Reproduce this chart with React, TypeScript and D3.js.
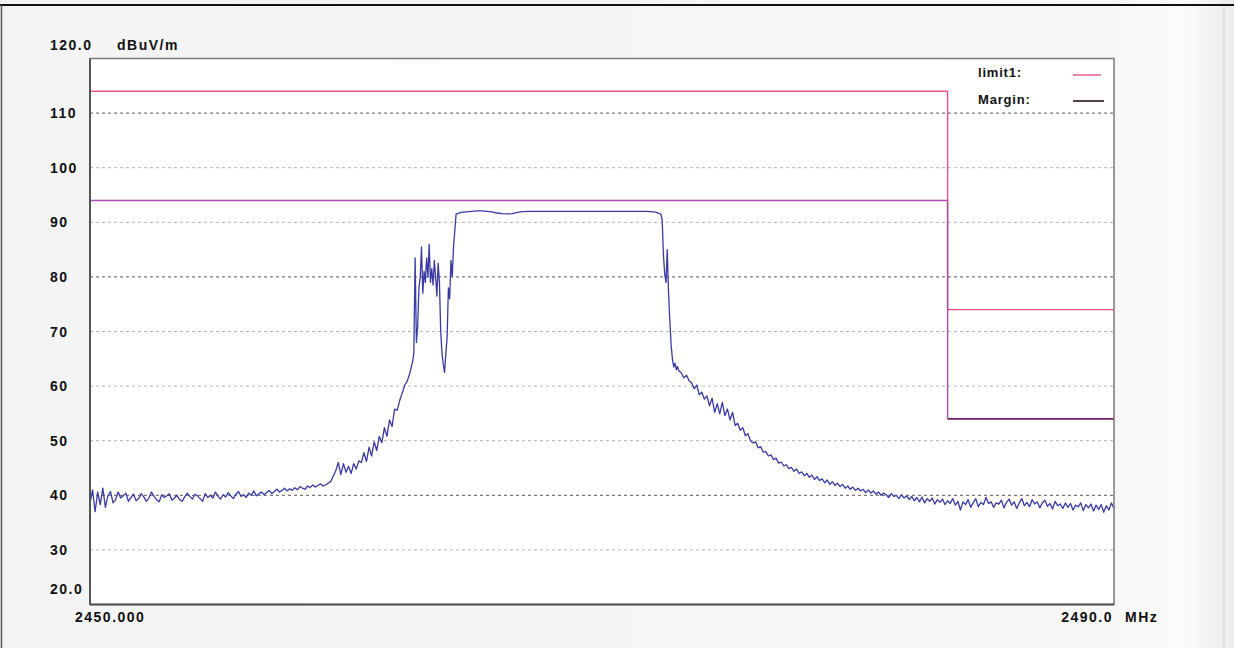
import React from "react";
import * as d3 from "d3";

// Spectrum sweep, 2450–2490 MHz, level in dBuV/m.
// The trace is stored in segments: start frequency (MHz), step (MHz), levels.
const floorLeftStart = 2450.0;
const floorLeftStep = 0.1;
const floorLeft = [
  38.5, 41.0, 37.0, 40.6, 38.3, 41.3, 37.8, 39.9, 40.7, 38.6,
  39.2, 40.6, 39.5, 39.9, 40.4, 38.9, 39.6, 40.2, 39.0, 39.4,
  40.3, 39.7, 38.9, 39.5, 40.6, 39.8, 39.2, 38.8, 40.1, 39.6,
  39.9, 40.3, 39.1, 39.5, 40.0, 39.2, 38.9, 39.7, 40.4, 39.8,
  39.3, 40.2, 39.9, 39.4, 38.9, 40.3, 39.6, 40.0, 39.5, 40.6,
  39.8, 39.3, 40.1, 39.7, 40.5, 39.9, 39.4, 40.2, 40.7, 39.8,
  40.1, 39.6, 40.4, 40.0, 40.8, 39.9, 40.3, 40.6, 40.1, 40.5,
  40.9, 40.3, 40.7, 41.1, 40.6, 40.9, 41.3, 40.8, 41.2, 40.9,
  41.4, 41.0, 41.6, 41.3, 41.1, 41.7, 41.4, 41.9, 41.5, 41.8,
  42.1, 41.7, 41.9,
];

const riseStart = 2459.3;
const riseStep = 0.1;
const rise = [
  42.2, 42.5, 43.5, 44.5, 46.0, 43.8, 45.8, 44.2, 45.3, 44.0,
  45.8, 44.8, 46.3, 46.0, 47.8, 46.2, 48.8, 47.2, 49.8, 48.2,
  50.8, 49.6, 52.4, 50.8, 53.8, 52.6, 55.8, 55.6, 57.4, 58.8,
  60.2, 61.0, 62.5, 64.5,
];

const shoulderStart = 2462.65;
const shoulderStep = 0.05;
const shoulder = [
  66.0, 83.5, 68.0, 71.0, 78.0, 80.0, 85.5, 77.0, 81.0, 79.0,
  83.5, 80.0, 86.0, 79.0, 81.5, 78.5, 83.0, 80.0, 76.5, 82.5,
  79.0, 70.0, 66.0, 64.0, 62.5, 66.0, 69.0, 78.0, 76.0, 83.0,
  80.0, 85.5, 88.5,
];

const topStart = 2464.3;
const topStep = 0.2;
const top = [
  91.5, 91.8, 91.9, 92.0, 92.1, 92.1, 92.0, 91.9, 91.7, 91.6,
  91.55, 91.6, 91.8, 91.95, 92.0, 92.0, 92.0, 92.0, 92.0, 92.0,
  92.0, 92.0, 92.0, 92.0, 92.0, 92.0, 92.0, 92.0, 92.0, 92.0,
  92.0, 92.0, 92.0, 92.0, 92.0, 92.0, 92.0, 92.0, 91.95, 91.85,
  91.5,
];

const edgeStart = 2472.35;
const edgeStep = 0.05;
const edge = [
  90.5, 84.0, 80.5, 79.0, 85.0, 77.0, 72.0, 67.5, 65.0, 63.5,
  64.2, 63.0, 63.6, 62.8,
];

const fallStart = 2473.1;
const fallStep = 0.1;
const fall = [
  62.4, 61.5, 62.0, 61.0, 60.6, 59.5, 60.2, 58.4, 58.9, 57.6,
  58.2, 56.4, 57.8, 55.2, 56.8, 54.9, 57.0, 54.6, 55.8, 53.8,
  55.2, 52.8, 53.2, 51.9, 52.4, 50.9, 51.3, 50.0, 49.6, 49.8,
  48.7, 48.9, 47.9, 48.0, 47.2, 47.4, 46.5, 46.8, 45.9, 46.1,
  45.4, 45.6, 44.9, 45.1, 44.4, 44.8, 44.0, 44.3, 43.6, 44.0,
  43.3, 43.7, 42.9, 43.4, 42.7, 43.0, 42.3, 42.8, 42.0, 42.5,
  41.8, 42.2, 41.6, 42.0, 41.3, 41.7, 41.1, 41.5, 40.9, 41.3,
  40.8, 41.1, 40.5, 41.0, 40.4, 40.8, 40.2, 40.6, 40.0, 40.4,
];

const floorRightStart = 2481.1;
const floorRightStep = 0.1;
const floorRight = [
  40.1, 39.6, 40.3, 39.8, 40.0, 39.4, 40.1, 39.5, 39.9, 39.2,
  39.8, 39.0, 39.6, 38.8, 39.7, 38.6, 39.4, 38.9, 39.5, 38.4,
  39.2, 38.7, 39.3, 38.3, 39.0, 38.5, 39.4, 38.2, 38.9, 37.3,
  38.8, 38.3, 39.2, 37.8, 38.6, 39.4, 37.9, 38.7, 38.3, 39.6,
  38.5, 38.8, 37.8, 38.6, 38.4, 39.1, 37.7, 38.7, 39.3, 38.2,
  38.8, 37.6, 38.6, 39.4, 38.1, 38.7, 37.9, 39.2, 38.4, 38.8,
  37.7, 38.6, 39.1, 38.0, 38.5, 37.5, 38.9, 38.1, 38.4, 37.6,
  38.6, 37.8, 38.5, 37.3, 38.2, 37.9, 38.6, 37.2, 38.3, 37.7,
  38.4, 37.1, 38.2, 37.4, 38.3, 36.9, 38.1, 37.3, 38.6, 37.6,
];

// Limit and margin lines (restricted band edge at 2483.5 MHz)
const limitFreq = [2450, 2483.5, 2483.5, 2490];
const limitLevel = [114, 114, 74, 74];
const marginLevel = [94, 94, 54, 54];

const gridLevels = [110, 100, 90, 80, 70, 60, 50, 40, 30];
const strongGrid = [110, 80, 40];
const yTickLabels = ["120.0", "110", "100", "90", "80", "70", "60", "50", "40", "30", "20.0"];
const yTickValues = [120, 110, 100, 90, 80, 70, 60, 50, 40, 30, 20];

const W = 1234;
const H = 648;
const plot = { left: 90, right: 1114, top: 58.5, bottom: 604.5 };
const FONT = "'Liberation Sans', Arial, sans-serif";

type Pt = { f: number; v: number };

function segment(start: number, step: number, values: number[]): Pt[] {
  return values.map((v, i) => ({ f: +(start + i * step).toFixed(3), v }));
}

export default function App() {
  const x = d3.scaleLinear().domain([2450, 2490]).range([plot.left, plot.right]);
  const y = d3.scaleLinear().domain([20, 120]).range([plot.bottom, plot.top]);

  const trace: Pt[] = [
    ...segment(floorLeftStart, floorLeftStep, floorLeft),
    ...segment(riseStart, riseStep, rise),
    ...segment(shoulderStart, shoulderStep, shoulder),
    ...segment(topStart, topStep, top),
    ...segment(edgeStart, edgeStep, edge),
    ...segment(fallStart, fallStep, fall),
    ...segment(floorRightStart, floorRightStep, floorRight),
  ];

  const line = d3
    .line<Pt>()
    .x((d) => x(d.f))
    .y((d) => y(d.v));

  const limitPts = limitFreq.map((f, i) => ({ f, v: limitLevel[i] }));
  const marginPts = limitFreq.map((f, i) => ({ f, v: marginLevel[i] }));

  const labelStyle: React.CSSProperties = {
    fontFamily: FONT,
    fontWeight: 700,
    fontSize: 14,
    letterSpacing: 1.5,
    fill: "#111",
  };
  const legendStyle: React.CSSProperties = { ...labelStyle, fontSize: 13, letterSpacing: 0.8 };

  return (
    <svg
      width={W}
      height={H}
      viewBox={`0 0 ${W} ${H}`}
      style={{ position: "absolute", left: 0, top: 0, display: "block" }}
    >
      <defs>
        <linearGradient id="pagebg" x1="0" x2="1" y1="0" y2="0">
          <stop offset="0" stopColor="#f4f4f4" />
          <stop offset="0.9" stopColor="#f7f7f7" />
          <stop offset="0.96" stopColor="#fbfbfb" />
          <stop offset="1" stopColor="#ececec" />
        </linearGradient>
      </defs>
      <rect x={0} y={0} width={W} height={H} fill="url(#pagebg)" />
      {/* window edges */}
      <line x1={0} x2={W} y1={5} y2={5} stroke="#111" strokeWidth={2} />
      <line x1={1.5} x2={1.5} y1={5} y2={H} stroke="#555" strokeWidth={1.5} />
      <line x1={1224} x2={1224} y1={6} y2={H} stroke="#dcdcdc" strokeWidth={1.5} />

      {/* plot area */}
      <rect
        x={plot.left}
        y={plot.top}
        width={plot.right - plot.left}
        height={plot.bottom - plot.top}
        fill="#ffffff"
      />

      {/* grid */}
      {gridLevels.map((g) => (
        <line
          key={g}
          x1={plot.left}
          x2={plot.right}
          y1={y(g)}
          y2={y(g)}
          stroke={strongGrid.includes(g) ? "#5a5a5a" : "#b4b4b4"}
          strokeWidth={1}
          strokeDasharray="3,3"
        />
      ))}

      {/* limit and margin */}
      <path d={line(limitPts) ?? ""} fill="none" stroke="#e8508a" strokeWidth={1.4} />
      <path
        d={line(marginPts.slice(0, 2)) ?? ""}
        fill="none"
        stroke="#b04cb4"
        strokeWidth={1.4}
      />
      <path
        d={line(marginPts.slice(1, 3)) ?? ""}
        fill="none"
        stroke="#a0509a"
        strokeWidth={1.4}
      />
      <path
        d={line(marginPts.slice(2)) ?? ""}
        fill="none"
        stroke="#6e2068"
        strokeWidth={1.6}
      />

      {/* measured trace */}
      <path
        d={line(trace) ?? ""}
        fill="none"
        stroke="#3a3aa6"
        strokeWidth={1.3}
        strokeLinejoin="round"
      />

      {/* frame */}
      <rect
        x={plot.left}
        y={plot.top}
        width={plot.right - plot.left}
        height={plot.bottom - plot.top}
        fill="none"
        stroke="#7a7a7a"
        strokeWidth={1.5}
      />
      <line x1={plot.left} x2={plot.left} y1={plot.top} y2={plot.bottom} stroke="#555" strokeWidth={2} />
      <line x1={plot.left} x2={plot.right} y1={plot.bottom} y2={plot.bottom} stroke="#555" strokeWidth={2} />

      {/* legend */}
      <text x={978} y={72} dy="0.36em" style={legendStyle}>
        limit1:
      </text>
      <line x1={1073} x2={1101} y1={75} y2={75} stroke="#e8508a" strokeWidth={1.4} />
      <text x={978} y={99} dy="0.36em" style={legendStyle}>
        Margin:
      </text>
      <line x1={1073} x2={1104} y1={101} y2={101} stroke="#2a1426" strokeWidth={1.6} />

      {/* y labels */}
      {yTickLabels.map((t, i) => {
        const v = yTickValues[i];
        let yy = y(v);
        if (v === 120) yy = 45;
        if (v === 20) yy = 589;
        return (
          <text key={t} x={50} y={yy} dy="0.36em" style={labelStyle}>
            {t}
          </text>
        );
      })}
      <text x={117} y={45} dy="0.36em" style={labelStyle}>
        dBuV/m
      </text>

      {/* x labels */}
      <text x={75} y={617} dy="0.36em" style={labelStyle}>
        2450.000
      </text>
      <text x={1113} y={617} dy="0.36em" textAnchor="end" style={labelStyle}>
        2490.0
      </text>
      <text x={1125} y={617} dy="0.36em" style={labelStyle}>
        MHz
      </text>
    </svg>
  );
}
